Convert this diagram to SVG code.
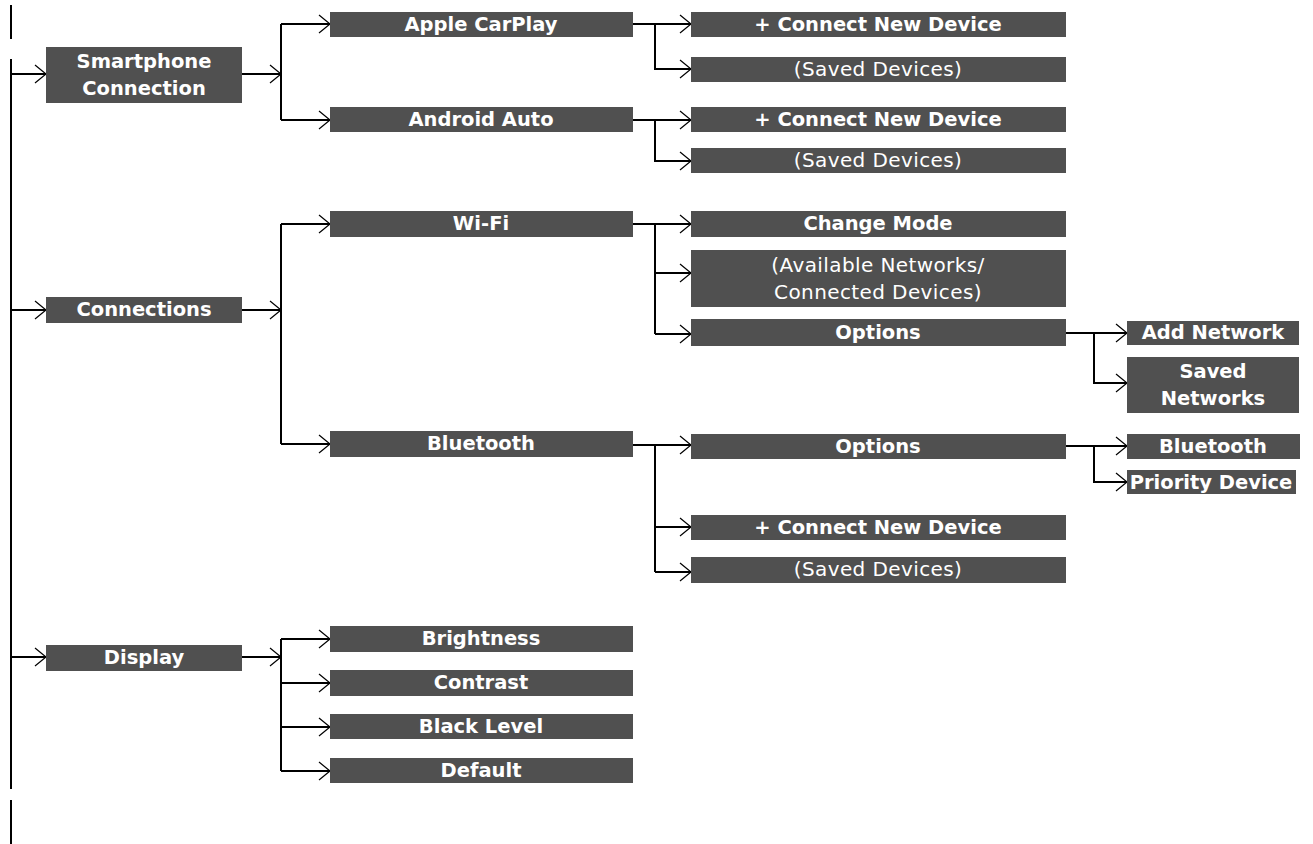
<svg xmlns="http://www.w3.org/2000/svg" width="1313" height="844" viewBox="0 0 1313 844">
<style>
.box{fill:#505050}
.t{font-family:"DejaVu Sans","Liberation Sans",sans-serif;font-size:19.5px;font-weight:700;fill:#fff;text-anchor:middle}
.r{font-weight:400;font-size:20px;letter-spacing:0.4px}
.ln{fill:none;stroke:#000;stroke-width:2}
</style>
<defs>
<marker id="ah" markerUnits="userSpaceOnUse" markerWidth="14" markerHeight="22" refX="12" refY="10" orient="auto" overflow="visible">
<path d="M1,1 L12,10 L1,19" fill="none" stroke="#000" stroke-width="1.2"/>
</marker>
</defs>
<rect width="1313" height="844" fill="#fff"/>
<g id="connectors" class="ln">
<path d="M11,5 V39"/>
<path d="M11,59 V789"/>
<path d="M11,800 V844"/>
<path d="M11,74 H46" marker-end="url(#ah)"/>
<path d="M11,310 H46" marker-end="url(#ah)"/>
<path d="M11,657 H46" marker-end="url(#ah)"/>
<path d="M242,74 H281" marker-end="url(#ah)"/>
<path d="M281,24 V120"/>
<path d="M281,24 H330" marker-end="url(#ah)"/>
<path d="M281,120 H330" marker-end="url(#ah)"/>
<path d="M633,24 H691" marker-end="url(#ah)"/>
<path d="M655,24 V69 H691" marker-end="url(#ah)"/>
<path d="M633,120 H691" marker-end="url(#ah)"/>
<path d="M655,120 V161 H691" marker-end="url(#ah)"/>
<path d="M242,310 H281" marker-end="url(#ah)"/>
<path d="M281,224 V444"/>
<path d="M281,224 H330" marker-end="url(#ah)"/>
<path d="M281,444 H330" marker-end="url(#ah)"/>
<path d="M633,224 H691" marker-end="url(#ah)"/>
<path d="M655,224 V334"/>
<path d="M655,273 H691" marker-end="url(#ah)"/>
<path d="M655,334 H691" marker-end="url(#ah)"/>
<path d="M1066,333 H1127" marker-end="url(#ah)"/>
<path d="M1094,333 V383 H1127" marker-end="url(#ah)"/>
<path d="M633,445 H691" marker-end="url(#ah)"/>
<path d="M655,445 V572"/>
<path d="M655,527 H691" marker-end="url(#ah)"/>
<path d="M655,572 H691" marker-end="url(#ah)"/>
<path d="M1066,446 H1127" marker-end="url(#ah)"/>
<path d="M1094,446 V482 H1127" marker-end="url(#ah)"/>
<path d="M242,657 H281" marker-end="url(#ah)"/>
<path d="M281,639 V771"/>
<path d="M281,639 H330" marker-end="url(#ah)"/>
<path d="M281,683 H330" marker-end="url(#ah)"/>
<path d="M281,727 H330" marker-end="url(#ah)"/>
<path d="M281,771 H330" marker-end="url(#ah)"/>
</g>
<g id="smartphone"><rect class="box" x="46" y="47" width="196" height="56"/><text class="t" x="144" y="68">Smartphone</text><text class="t" x="144" y="95">Connection</text></g>
<g id="carplay"><rect class="box" x="330" y="12" width="303" height="25"/><text class="t" x="481" y="31">Apple CarPlay</text></g>
<g id="androidauto"><rect class="box" x="330" y="107" width="303" height="25"/><text class="t" x="481" y="126">Android Auto</text></g>
<g id="cp-connect"><rect class="box" x="691" y="12" width="375" height="25"/><text class="t" x="878" y="31">+ Connect New Device</text></g>
<g id="cp-saved"><rect class="box" x="691" y="57" width="375" height="25"/><text class="t r" x="878" y="76">(Saved Devices)</text></g>
<g id="aa-connect"><rect class="box" x="691" y="107" width="375" height="25"/><text class="t" x="878" y="126">+ Connect New Device</text></g>
<g id="aa-saved"><rect class="box" x="691" y="148" width="375" height="25"/><text class="t r" x="878" y="167">(Saved Devices)</text></g>
<g id="connections"><rect class="box" x="46" y="297" width="196" height="26"/><text class="t" x="144" y="316">Connections</text></g>
<g id="wifi"><rect class="box" x="330" y="211" width="303" height="26"/><text class="t" x="481" y="230">Wi-Fi</text></g>
<g id="bluetooth"><rect class="box" x="330" y="431" width="303" height="26"/><text class="t" x="481" y="450">Bluetooth</text></g>
<g id="changemode"><rect class="box" x="691" y="211" width="375" height="26"/><text class="t" x="878" y="230">Change Mode</text></g>
<g id="available"><rect class="box" x="691" y="250" width="375" height="57"/><text class="t r" x="878" y="272">(Available Networks/</text><text class="t r" x="878" y="299">Connected Devices)</text></g>
<g id="wifi-options"><rect class="box" x="691" y="319" width="375" height="27"/><text class="t" x="878" y="339">Options</text></g>
<g id="addnetwork"><rect class="box" x="1127" y="321" width="172" height="24"/><text class="t" x="1213" y="339">Add Network</text></g>
<g id="savednetworks"><rect class="box" x="1127" y="357" width="172" height="56"/><text class="t" x="1213" y="378">Saved</text><text class="t" x="1213" y="405">Networks</text></g>
<g id="bt-options"><rect class="box" x="691" y="434" width="375" height="25"/><text class="t" x="878" y="453">Options</text></g>
<g id="bt-bluetooth"><rect class="box" x="1127" y="434" width="173" height="25"/><text class="t" x="1213" y="453">Bluetooth</text></g>
<g id="prioritydevice"><rect class="box" x="1127" y="470" width="169" height="24"/><text class="t" x="1211" y="489">Priority Device</text></g>
<g id="bt-connect"><rect class="box" x="691" y="515" width="375" height="25"/><text class="t" x="878" y="534">+ Connect New Device</text></g>
<g id="bt-saved"><rect class="box" x="691" y="557" width="375" height="26"/><text class="t r" x="878" y="576">(Saved Devices)</text></g>
<g id="display"><rect class="box" x="46" y="645" width="196" height="26"/><text class="t" x="144" y="664">Display</text></g>
<g id="brightness"><rect class="box" x="330" y="626" width="303" height="26"/><text class="t" x="481" y="645">Brightness</text></g>
<g id="contrast"><rect class="box" x="330" y="670" width="303" height="26"/><text class="t" x="481" y="689">Contrast</text></g>
<g id="blacklevel"><rect class="box" x="330" y="714" width="303" height="25"/><text class="t" x="481" y="733">Black Level</text></g>
<g id="default"><rect class="box" x="330" y="758" width="303" height="25"/><text class="t" x="481" y="777">Default</text></g>
</svg>
